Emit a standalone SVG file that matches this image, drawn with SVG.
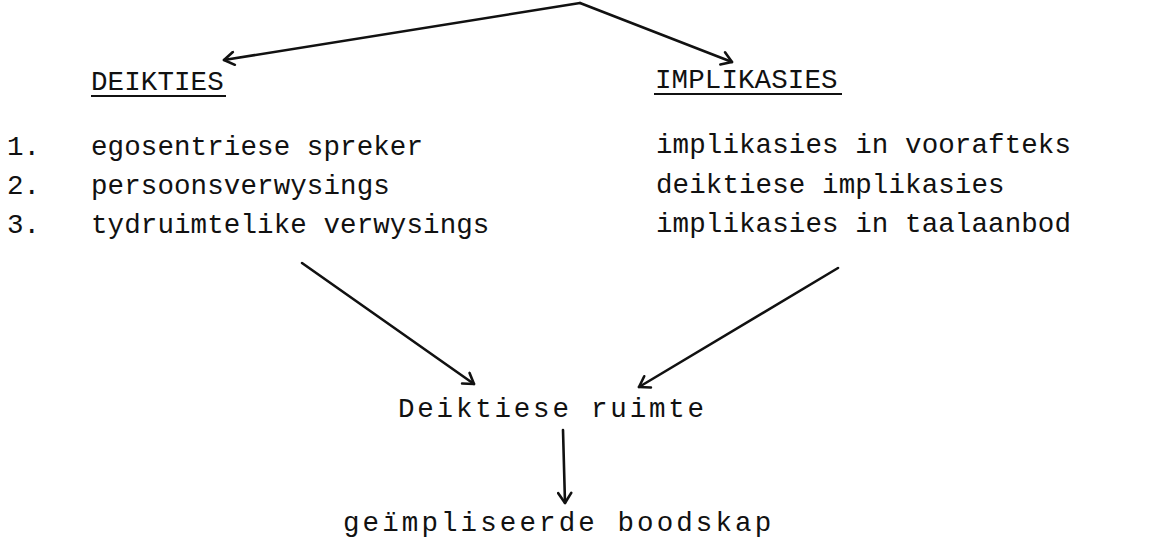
<svg xmlns="http://www.w3.org/2000/svg" width="1159" height="539" viewBox="0 0 1159 539">
<style>
text{font-family:"Liberation Mono","DejaVu Sans Mono",monospace;font-size:27.5px;fill:#111;letter-spacing:0.1px}
.c{stroke:#111;stroke-width:2.6;fill:none;stroke-linecap:round}
.u{stroke:#111;stroke-width:2.2}
</style>
<defs>
<marker id="ah" viewBox="-12 -8 14 16" markerWidth="14" markerHeight="16" refX="0" refY="0" orient="auto" markerUnits="userSpaceOnUse">
<path d="M -10 -6.5 L 0 0 L -10 6.5" fill="none" stroke="#111" stroke-width="2.6" stroke-linecap="round" stroke-linejoin="round"/>
</marker>
</defs>
<g id="connectors">
<path class="c" d="M 580 3 L 224 60" marker-end="url(#ah)"/>
<path class="c" d="M 580 3 L 732 62" marker-end="url(#ah)"/>
<path class="c" d="M 302 263 L 474 384" marker-end="url(#ah)"/>
<path class="c" d="M 838 268 L 639 387" marker-end="url(#ah)"/>
<path class="c" d="M 563 430 L 565 503" marker-end="url(#ah)"/>
</g>
<g id="deikties">
<text x="91" y="90">DEIKTIES</text>
<line class="u" x1="91" y1="96" x2="226" y2="96"/>
</g>
<g id="implikasies">
<text x="655" y="88">IMPLIKASIES</text>
<line class="u" x1="654" y1="94" x2="842" y2="94"/>
</g>
<g id="numbers">
<text x="7" y="155">1.</text>
<text x="7" y="194">2.</text>
<text x="7" y="233">3.</text>
</g>
<g id="deikties-items">
<text x="91" y="155">egosentriese spreker</text>
<text x="91" y="194">persoonsverwysings</text>
<text x="91" y="233">tydruimtelike verwysings</text>
</g>
<g id="implikasies-items">
<text x="656" y="153">implikasies in voorafteks</text>
<text x="656" y="193">deiktiese implikasies</text>
<text x="656" y="232">implikasies in taalaanbod</text>
</g>
<g id="deiktiese-ruimte">
<text x="398" y="417" style="letter-spacing:2.8px">Deiktiese ruimte</text>
</g>
<g id="geimpliseerde-boodskap">
<text x="343" y="531" style="letter-spacing:3.1px">geïmpliseerde boodskap</text>
</g>
</svg>
